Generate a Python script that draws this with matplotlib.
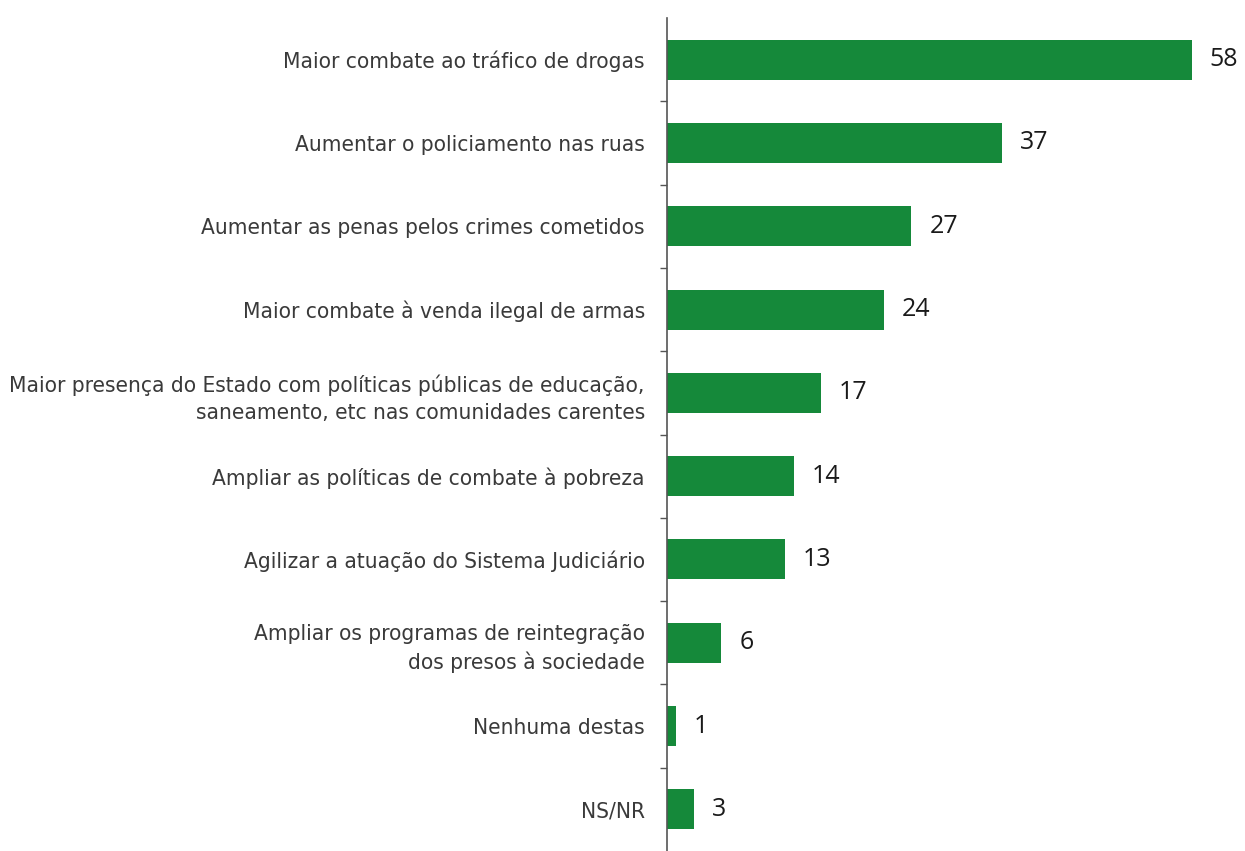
import matplotlib
matplotlib.use("Agg")
import matplotlib.pyplot as plt
import numpy as np

categories = [
    "Maior combate ao tráfico de drogas",
    "Aumentar o policiamento nas ruas",
    "Aumentar as penas pelos crimes cometidos",
    "Maior combate à venda ilegal de armas",
    "Maior presença do Estado com políticas públicas de educação,\nsaneamento, etc nas comunidades carentes",
    "Ampliar as políticas de combate à pobreza",
    "Agilizar a atuação do Sistema Judiciário",
    "Ampliar os programas de reintegração\ndos presos à sociedade",
    "Nenhuma destas",
    "NS/NR",
]
values = [58, 37, 27, 24, 17, 14, 13, 6, 1, 3]

W, H = 1245, 851
fig = plt.figure(figsize=(W / 100, H / 100), dpi=100)
left = 667 / W
top = 1 - 18 / H
ax = fig.add_axes([left, 0, 1 - left, top])

y = np.arange(len(categories))
ax.barh(y, values, height=0.48, color="#15893a")
ax.set_ylim(len(categories) - 0.5, -0.5)
ax.set_xlim(0, 63.9)

for yi, v in zip(y, values):
    ax.annotate(str(v), (v, yi), xytext=(13, 0), textcoords="offset points",
                va="center", ha="left", fontsize=18, color="#1a1a1a",
                family=["Open Sans", "DejaVu Sans"])

ax.set_yticks(y)
ax.set_yticklabels(categories, fontsize=16.2, color="#3a3a3a",
                   family=["DejaVu Sans"], fontstretch="condensed",
                   linespacing=1.45)
ax.tick_params(axis="y", which="major", length=0, pad=16)
ax.set_yticks(np.arange(len(categories) - 1) + 0.5, minor=True)
ax.tick_params(axis="y", which="minor", length=5, width=1, color="#555555", direction="out")
ax.set_xticks([])
for s in ["top", "right", "bottom"]:
    ax.spines[s].set_visible(False)
ax.spines["left"].set_color("#555555")
ax.spines["left"].set_linewidth(1.2)

fig.savefig("out.png", dpi=100)
